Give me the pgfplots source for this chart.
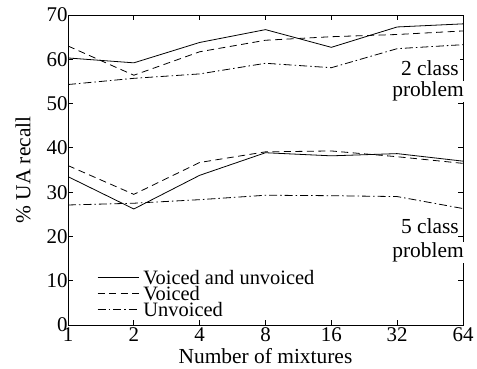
\documentclass[border=0pt]{standalone}
\usepackage{fontspec}
\setmainfont{Liberation Serif}
\usepackage{pgfplots}
\pgfplotsset{compat=1.18}
\begin{document}
\begin{tikzpicture}
\useasboundingbox (-68bp,-44bp) rectangle (409bp,325bp);
\begin{axis}[
  scale only axis, width=395bp, height=310bp,
  xmin=0, xmax=6, ymin=0, ymax=70,
  xtick={0,1,2,3,4,5,6}, xticklabels={1,2,4,8,16,32,64},
  ytick={0,10,20,30,40,50,60,70},
  tick align=inside, major tick length=5bp,
  axis line style={line width=1bp},
  tick style={line width=0.8bp, black},
  /pgf/number format/assume math mode=true,
  tick label style={font=\fontsize{21}{21}\selectfont},
  yticklabel style={xshift=3bp},
  xticklabel style={yshift=1bp},
  label style={font=\fontsize{21.5}{22}\selectfont},
  xlabel={Number of mixtures},
  ylabel={\% UA recall},
  xlabel style={at={(axis description cs:0.5,0)}, anchor=base, yshift=-38bp},
  ylabel style={at={(axis description cs:-0.114,0.5)}, anchor=center},
  legend cell align=left,
  legend image code/.code={\draw[#1] (0bp,4bp) -- (41bp,4bp);},
  legend style={at={(axis description cs:0.0734,0.012)}, anchor=south west,
    draw=none, fill=none, inner sep=0pt,
    font=\fontsize{20.5}{20.5}\selectfont,
    nodes={inner ysep=0pt, inner xsep=4.5bp, text height=11bp, text depth=5bp}},
]
\addplot[black, line width=0.8bp] coordinates {(0,60.3) (1,59.2) (2,63.8) (3,66.7) (4,62.7) (5,67.3) (6,68.0)};
\addlegendentry{Voiced and unvoiced}
\addplot[black, line width=0.8bp, dash pattern=on 7bp off 4.5bp] coordinates {(0,63.0) (1,56.4) (2,61.7) (3,64.3) (4,65.1) (5,65.6) (6,66.4)};
\addlegendentry{Voiced}
\addplot[black, line width=0.8bp, dash pattern=on 8bp off 3bp on 1.5bp off 3bp] coordinates {(0,54.3) (1,55.7) (2,56.7) (3,59.1) (4,58.1) (5,62.4) (6,63.3)};
\addlegendentry{Unvoiced}
\addplot[black, line width=0.8bp, forget plot] coordinates {(0,33.5) (1,26.2) (2,33.8) (3,38.9) (4,38.2) (5,38.7) (6,37.0)};
\addplot[black, line width=0.8bp, dash pattern=on 7bp off 4.5bp, forget plot] coordinates {(0,36.0) (1,29.5) (2,36.7) (3,39.1) (4,39.3) (5,38.0) (6,36.5)};
\addplot[black, line width=0.8bp, dash pattern=on 8bp off 3bp on 1.5bp off 3bp, forget plot] coordinates {(0,27.1) (1,27.5) (2,28.3) (3,29.3) (4,29.2) (5,29.0) (6,26.3)};
\coordinate (a1) at (axis cs:5.955,56.45);
\coordinate (a2) at (axis cs:6.03,51.55);
\coordinate (b1) at (axis cs:5.955,20.55);
\coordinate (b2) at (axis cs:6.03,15.2);
\end{axis}
\begin{scope}[every node/.style={fill=white, inner sep=1bp, anchor=base east, font=\fontsize{21.5}{22}\selectfont}]
\node at (a1) {2 class};
\node at (a2) {problem};
\node at (b1) {5 class};
\node at (b2) {problem};
\end{scope}
\end{tikzpicture}
\end{document}
